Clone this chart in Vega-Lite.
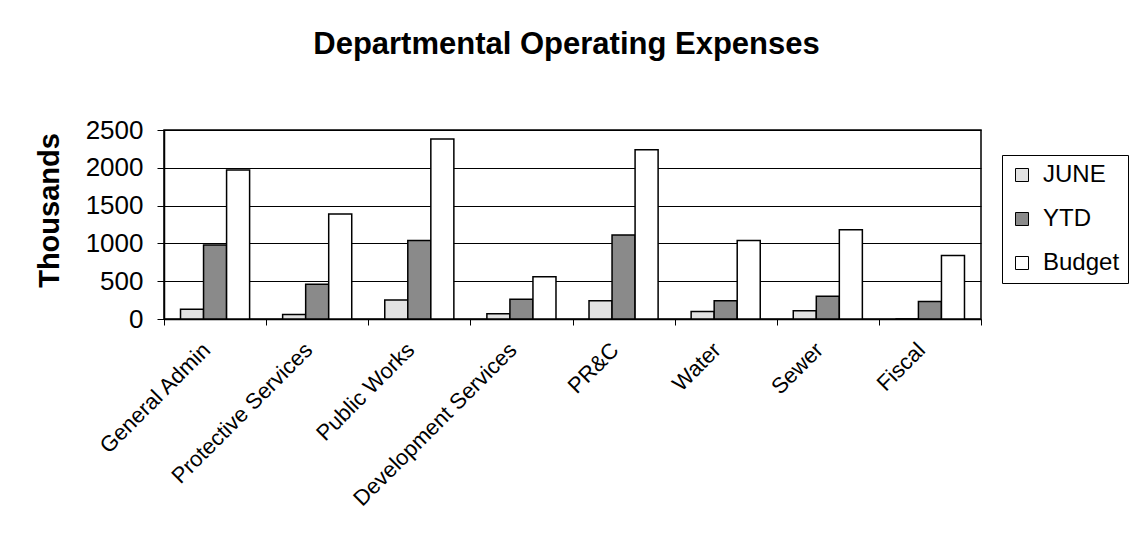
{
  "$schema": "https://vega.github.io/schema/vega-lite/v6.json",
  "autosize": "none",
  "width": 817,
  "height": 189,
  "padding": {"left": 164, "top": 130, "right": 154, "bottom": 214},
  "background": "white",
  "title": {
    "text": "Departmental Operating Expenses",
    "font": "Liberation Sans",
    "fontSize": 31,
    "fontWeight": "bold",
    "color": "black",
    "anchor": "middle",
    "frame": "group",
    "offset": 56,
    "dx": -6
  },
  "data": {
    "values": [
      {"dept": "General Admin", "series": "JUNE", "value": 130},
      {"dept": "General Admin", "series": "YTD", "value": 980},
      {"dept": "General Admin", "series": "Budget", "value": 1970},
      {"dept": "Protective Services", "series": "JUNE", "value": 60},
      {"dept": "Protective Services", "series": "YTD", "value": 460},
      {"dept": "Protective Services", "series": "Budget", "value": 1390},
      {"dept": "Public Works", "series": "JUNE", "value": 250},
      {"dept": "Public Works", "series": "YTD", "value": 1040},
      {"dept": "Public Works", "series": "Budget", "value": 2380},
      {"dept": "Development Services", "series": "JUNE", "value": 70},
      {"dept": "Development Services", "series": "YTD", "value": 260},
      {"dept": "Development Services", "series": "Budget", "value": 560},
      {"dept": "PR&C", "series": "JUNE", "value": 240},
      {"dept": "PR&C", "series": "YTD", "value": 1110},
      {"dept": "PR&C", "series": "Budget", "value": 2240},
      {"dept": "Water", "series": "JUNE", "value": 100},
      {"dept": "Water", "series": "YTD", "value": 240},
      {"dept": "Water", "series": "Budget", "value": 1040},
      {"dept": "Sewer", "series": "JUNE", "value": 110},
      {"dept": "Sewer", "series": "YTD", "value": 300},
      {"dept": "Sewer", "series": "Budget", "value": 1180},
      {"dept": "Fiscal", "series": "JUNE", "value": 0},
      {"dept": "Fiscal", "series": "YTD", "value": 230},
      {"dept": "Fiscal", "series": "Budget", "value": 840}
    ]
  },
  "mark": {"type": "bar", "stroke": "black", "strokeWidth": 1.5},
  "encoding": {
    "x": {
      "field": "dept",
      "type": "nominal",
      "sort": null,
      "scale": {"paddingInner": 0, "paddingOuter": 0},
      "axis": {
        "title": null,
        "labelAngle": -45,
        "labelFont": "Liberation Sans",
        "labelFontSize": 22,
        "labelColor": "black",
        "labelLimit": 0,
        "labelPadding": 14,
        "labelOffset": -16,
        "tickBand": "extent",
        "tickSize": 6,
        "tickColor": "black",
        "domainColor": "black",
        "domainWidth": 1.5,
        "grid": false
      }
    },
    "xOffset": {
      "field": "series",
      "type": "nominal",
      "sort": ["JUNE", "YTD", "Budget"],
      "scale": {"paddingInner": 0, "paddingOuter": 0.717}
    },
    "y": {
      "field": "value",
      "type": "quantitative",
      "scale": {"domain": [0, 2500], "nice": false},
      "axis": {
        "title": "Thousands",
        "values": [0, 500, 1000, 1500, 2000, 2500],
        "format": "d",
        "titleFont": "Liberation Sans",
        "titleFontSize": 29,
        "titleFontWeight": "bold",
        "titleColor": "black",
        "titleX": -106,
        "titleY": 80,
        "titleBaseline": "alphabetic",
        "labelFont": "Liberation Sans",
        "labelFontSize": 26,
        "labelColor": "black",
        "labelPadding": 14,
        "tickSize": 7,
        "tickColor": "black",
        "domainColor": "black",
        "domainWidth": 1.5,
        "grid": true,
        "gridColor": "black",
        "gridWidth": 1
      }
    },
    "color": {
      "field": "series",
      "type": "nominal",
      "scale": {"domain": ["JUNE", "YTD", "Budget"], "range": ["#e2e2e2", "#8a8a8a", "#ffffff"]},
      "legend": {
        "title": null,
        "orient": "none",
        "legendX": 838,
        "legendY": 25,
        "labelFont": "Liberation Sans",
        "labelFontSize": 24,
        "labelColor": "black",
        "symbolType": "square",
        "symbolSize": 169,
        "symbolStrokeColor": "black",
        "symbolStrokeWidth": 1,
        "labelOffset": 9,
        "rowPadding": 20,
        "padding": 8,
        "strokeColor": "black",
        "fillColor": "white"
      }
    }
  },
  "config": {
    "view": {"stroke": "black", "strokeWidth": 1.5},
    "font": "Liberation Sans"
  }
}
